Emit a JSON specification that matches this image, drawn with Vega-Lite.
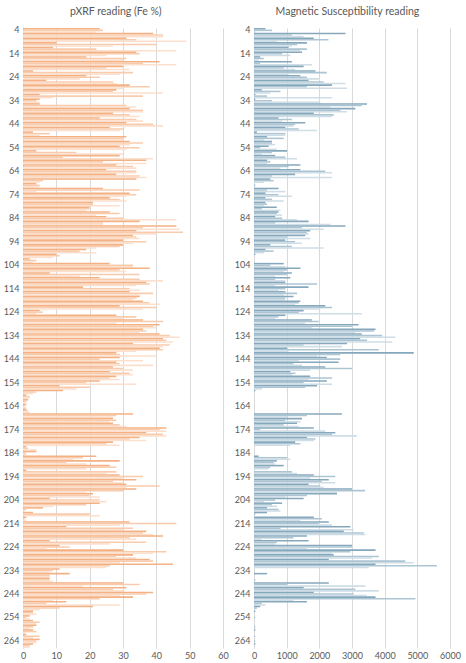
{
  "$schema": "https://vega.github.io/schema/vega-lite/v6.json",
  "padding": {"left": 3, "top": 7, "right": 5, "bottom": 2},
  "spacing": 5,
  "config": {
    "font": "Lato",
    "view": {"stroke": null},
    "axis": {"labelColor": "#595959", "labelFontSize": 9, "gridColor": "#d9d9d9", "domainColor": "#d9d9d9", "ticks": false, "labelFlush": false},
    "title": {"fontSize": 10.5, "fontWeight": "normal", "color": "#595959", "frame": "bounds", "offset": 8}
  },
  "data": {"values": [
    {"depth":4,"run":1,"fe":23,"ms":350},{"depth":4,"run":2,"fe":24,"ms":550},{"depth":4,"run":3,"fe":22,"ms":40},
    {"depth":6,"run":1,"fe":39,"ms":2800},{"depth":6,"run":2,"fe":42,"ms":1160},{"depth":6,"run":3,"fe":42,"ms":1520},
    {"depth":8,"run":1,"fe":31,"ms":1830},{"depth":8,"run":2,"fe":34,"ms":2280},{"depth":8,"run":3,"fe":49,"ms":700},
    {"depth":10,"run":1,"fe":10,"ms":1620},{"depth":10,"run":2,"fe":40,"ms":1320},{"depth":10,"run":3,"fe":27,"ms":1160},
    {"depth":12,"run":1,"fe":9,"ms":1060},{"depth":12,"run":2,"fe":22,"ms":1620},{"depth":12,"run":3,"fe":46,"ms":1420},
    {"depth":14,"run":1,"fe":34,"ms":1470},{"depth":14,"run":2,"fe":35,"ms":860},{"depth":14,"run":3,"fe":25,"ms":1110},
    {"depth":16,"run":1,"fe":19,"ms":190},{"depth":16,"run":2,"fe":31,"ms":300},{"depth":16,"run":3,"fe":30,"ms":140},
    {"depth":18,"run":1,"fe":41,"ms":1160},{"depth":18,"run":2,"fe":36,"ms":190},{"depth":18,"run":3,"fe":46,"ms":1770},
    {"depth":20,"run":1,"fe":30,"ms":1520},{"depth":20,"run":2,"fe":25,"ms":910},{"depth":20,"run":3,"fe":32,"ms":1260},
    {"depth":22,"run":1,"fe":3,"ms":1880},{"depth":22,"run":2,"fe":33,"ms":2230},{"depth":22,"run":3,"fe":29,"ms":1060},
    {"depth":24,"run":1,"fe":19,"ms":1420},{"depth":24,"run":2,"fe":23,"ms":1620},{"depth":24,"run":3,"fe":17,"ms":1980},
    {"depth":26,"run":1,"fe":7,"ms":1670},{"depth":26,"run":2,"fe":27,"ms":2130},{"depth":26,"run":3,"fe":28,"ms":2800},
    {"depth":28,"run":1,"fe":32,"ms":2390},{"depth":28,"run":2,"fe":38,"ms":1620},{"depth":28,"run":3,"fe":30,"ms":2850},
    {"depth":30,"run":1,"fe":28,"ms":240},{"depth":30,"run":2,"fe":27,"ms":810},{"depth":30,"run":3,"fe":42,"ms":500},
    {"depth":32,"run":1,"fe":5,"ms":40},{"depth":32,"run":2,"fe":36,"ms":400},{"depth":32,"run":3,"fe":9,"ms":2390},
    {"depth":34,"run":1,"fe":5,"ms":40},{"depth":34,"run":2,"fe":4,"ms":550},{"depth":34,"run":3,"fe":5,"ms":2030},
    {"depth":36,"run":1,"fe":5,"ms":3460},{"depth":36,"run":2,"fe":31,"ms":3300},{"depth":36,"run":3,"fe":34,"ms":2340},
    {"depth":38,"run":1,"fe":32,"ms":3100},{"depth":38,"run":2,"fe":36,"ms":2640},{"depth":38,"run":3,"fe":36,"ms":2850},
    {"depth":40,"run":1,"fe":27,"ms":1830},{"depth":40,"run":2,"fe":32,"ms":2440},{"depth":40,"run":3,"fe":35,"ms":2390},
    {"depth":42,"run":1,"fe":23,"ms":750},{"depth":42,"run":2,"fe":34,"ms":1160},{"depth":42,"run":3,"fe":36,"ms":860},
    {"depth":44,"run":1,"fe":31,"ms":1570},{"depth":44,"run":2,"fe":39,"ms":1260},{"depth":44,"run":3,"fe":42,"ms":1210},
    {"depth":46,"run":1,"fe":26,"ms":960},{"depth":46,"run":2,"fe":30,"ms":1370},{"depth":46,"run":3,"fe":29,"ms":1930},
    {"depth":48,"run":1,"fe":3,"ms":90},{"depth":48,"run":2,"fe":8,"ms":960},{"depth":48,"run":3,"fe":5,"ms":960},
    {"depth":50,"run":1,"fe":31,"ms":400},{"depth":50,"run":2,"fe":30,"ms":910},{"depth":50,"run":3,"fe":30,"ms":300},
    {"depth":52,"run":1,"fe":32,"ms":550},{"depth":52,"run":2,"fe":36,"ms":550},{"depth":52,"run":3,"fe":32,"ms":650},
    {"depth":54,"run":1,"fe":29,"ms":450},{"depth":54,"run":2,"fe":35,"ms":190},{"depth":54,"run":3,"fe":31,"ms":700},
    {"depth":56,"run":1,"fe":4,"ms":1010},{"depth":56,"run":2,"fe":16,"ms":550},{"depth":56,"run":3,"fe":30,"ms":240},
    {"depth":58,"run":1,"fe":29,"ms":650},{"depth":58,"run":2,"fe":12,"ms":960},{"depth":58,"run":3,"fe":39,"ms":1320},
    {"depth":60,"run":1,"fe":37,"ms":400},{"depth":60,"run":2,"fe":24,"ms":500},{"depth":60,"run":3,"fe":37,"ms":400},
    {"depth":62,"run":1,"fe":28,"ms":1420},{"depth":62,"run":2,"fe":33,"ms":1060},{"depth":62,"run":3,"fe":34,"ms":810},
    {"depth":64,"run":1,"fe":25,"ms":1420},{"depth":64,"run":2,"fe":34,"ms":2180},{"depth":64,"run":3,"fe":34,"ms":2390},
    {"depth":66,"run":1,"fe":28,"ms":1260},{"depth":66,"run":2,"fe":35,"ms":550},{"depth":66,"run":3,"fe":37,"ms":2390},
    {"depth":68,"run":1,"fe":34,"ms":500},{"depth":68,"run":2,"fe":6,"ms":600},{"depth":68,"run":3,"fe":5,"ms":300},
    {"depth":70,"run":1,"fe":4,"ms":0},{"depth":70,"run":2,"fe":5,"ms":40},{"depth":70,"run":3,"fe":5,"ms":0},
    {"depth":72,"run":1,"fe":24,"ms":750},{"depth":72,"run":2,"fe":35,"ms":400},{"depth":72,"run":3,"fe":4,"ms":960},
    {"depth":74,"run":1,"fe":32,"ms":350},{"depth":74,"run":2,"fe":34,"ms":750},{"depth":74,"run":3,"fe":31,"ms":1160},
    {"depth":76,"run":1,"fe":26,"ms":350},{"depth":76,"run":2,"fe":29,"ms":550},{"depth":76,"run":3,"fe":31,"ms":910},
    {"depth":78,"run":1,"fe":21,"ms":350},{"depth":78,"run":2,"fe":21,"ms":400},{"depth":78,"run":3,"fe":29,"ms":300},
    {"depth":80,"run":1,"fe":20,"ms":700},{"depth":80,"run":2,"fe":20,"ms":240},{"depth":80,"run":3,"fe":19,"ms":810},
    {"depth":82,"run":1,"fe":26,"ms":750},{"depth":82,"run":2,"fe":29,"ms":700},{"depth":82,"run":3,"fe":22,"ms":860},
    {"depth":84,"run":1,"fe":25,"ms":650},{"depth":84,"run":2,"fe":30,"ms":860},{"depth":84,"run":3,"fe":46,"ms":1320},
    {"depth":86,"run":1,"fe":35,"ms":1670},{"depth":86,"run":2,"fe":24,"ms":650},{"depth":86,"run":3,"fe":24,"ms":2340},
    {"depth":88,"run":1,"fe":46,"ms":2800},{"depth":88,"run":2,"fe":36,"ms":1470},{"depth":88,"run":3,"fe":47,"ms":2130},
    {"depth":90,"run":1,"fe":34,"ms":1720},{"depth":90,"run":2,"fe":48,"ms":1620},{"depth":90,"run":3,"fe":40,"ms":1670},
    {"depth":92,"run":1,"fe":33,"ms":1570},{"depth":92,"run":2,"fe":34,"ms":1010},{"depth":92,"run":3,"fe":35,"ms":1720},
    {"depth":94,"run":1,"fe":30,"ms":960},{"depth":94,"run":2,"fe":37,"ms":1260},{"depth":94,"run":3,"fe":33,"ms":1470},
    {"depth":96,"run":1,"fe":30,"ms":500},{"depth":96,"run":2,"fe":29,"ms":1160},{"depth":96,"run":3,"fe":22,"ms":2130},
    {"depth":98,"run":1,"fe":19,"ms":350},{"depth":98,"run":2,"fe":17,"ms":600},{"depth":98,"run":3,"fe":22,"ms":300},
    {"depth":100,"run":1,"fe":10,"ms":40},{"depth":100,"run":2,"fe":11,"ms":0},{"depth":100,"run":3,"fe":9,"ms":0},
    {"depth":102,"run":1,"fe":2,"ms":0},{"depth":102,"run":2,"fe":4,"ms":0},{"depth":102,"run":3,"fe":3,"ms":0},
    {"depth":104,"run":1,"fe":26,"ms":910},{"depth":104,"run":2,"fe":33,"ms":500},{"depth":104,"run":3,"fe":33,"ms":960},
    {"depth":106,"run":1,"fe":38,"ms":1420},{"depth":106,"run":2,"fe":29,"ms":1010},{"depth":106,"run":3,"fe":31,"ms":910},
    {"depth":108,"run":1,"fe":8,"ms":1160},{"depth":108,"run":2,"fe":35,"ms":1010},{"depth":108,"run":3,"fe":17,"ms":650},
    {"depth":110,"run":1,"fe":23,"ms":1110},{"depth":110,"run":2,"fe":35,"ms":650},{"depth":110,"run":3,"fe":42,"ms":960},
    {"depth":112,"run":1,"fe":37,"ms":960},{"depth":112,"run":2,"fe":38,"ms":1930},{"depth":112,"run":3,"fe":34,"ms":650},
    {"depth":114,"run":1,"fe":18,"ms":1670},{"depth":114,"run":2,"fe":32,"ms":960},{"depth":114,"run":3,"fe":35,"ms":750},
    {"depth":116,"run":1,"fe":32,"ms":960},{"depth":116,"run":2,"fe":39,"ms":1320},{"depth":116,"run":3,"fe":35,"ms":910},
    {"depth":118,"run":1,"fe":35,"ms":1210},{"depth":118,"run":2,"fe":34,"ms":960},{"depth":118,"run":3,"fe":33,"ms":960},
    {"depth":120,"run":1,"fe":36,"ms":1420},{"depth":120,"run":2,"fe":38,"ms":1370},{"depth":120,"run":3,"fe":41,"ms":1260},
    {"depth":122,"run":1,"fe":29,"ms":2180},{"depth":122,"run":2,"fe":40,"ms":2390},{"depth":122,"run":3,"fe":36,"ms":2030},
    {"depth":124,"run":1,"fe":5,"ms":1520},{"depth":124,"run":2,"fe":6,"ms":1370},{"depth":124,"run":3,"fe":4,"ms":3300},
    {"depth":126,"run":1,"fe":28,"ms":960},{"depth":126,"run":2,"fe":34,"ms":750},{"depth":126,"run":3,"fe":30,"ms":650},
    {"depth":128,"run":1,"fe":36,"ms":1770},{"depth":128,"run":2,"fe":42,"ms":1980},{"depth":128,"run":3,"fe":28,"ms":1570},
    {"depth":130,"run":1,"fe":41,"ms":3200},{"depth":130,"run":2,"fe":39,"ms":3000},{"depth":130,"run":3,"fe":40,"ms":1770},
    {"depth":132,"run":1,"fe":36,"ms":3720},{"depth":132,"run":2,"fe":37,"ms":3670},{"depth":132,"run":3,"fe":35,"ms":3100},
    {"depth":134,"run":1,"fe":41,"ms":3300},{"depth":134,"run":2,"fe":44,"ms":3920},{"depth":134,"run":3,"fe":47,"ms":4330},
    {"depth":136,"run":1,"fe":42,"ms":3250},{"depth":136,"run":2,"fe":43,"ms":3460},{"depth":136,"run":3,"fe":45,"ms":4230},
    {"depth":138,"run":1,"fe":33,"ms":2850},{"depth":138,"run":2,"fe":44,"ms":1520},{"depth":138,"run":3,"fe":42,"ms":2690},
    {"depth":140,"run":1,"fe":41,"ms":1010},{"depth":140,"run":2,"fe":42,"ms":3820},{"depth":140,"run":3,"fe":34,"ms":1060},
    {"depth":142,"run":1,"fe":28,"ms":4890},{"depth":142,"run":2,"fe":29,"ms":2640},{"depth":142,"run":3,"fe":40,"ms":1930},
    {"depth":144,"run":1,"fe":29,"ms":2230},{"depth":144,"run":2,"fe":23,"ms":2640},{"depth":144,"run":3,"fe":36,"ms":1370},
    {"depth":146,"run":1,"fe":28,"ms":2590},{"depth":146,"run":2,"fe":29,"ms":1210},{"depth":146,"run":3,"fe":39,"ms":1470},
    {"depth":148,"run":1,"fe":27,"ms":2180},{"depth":148,"run":2,"fe":30,"ms":3000},{"depth":148,"run":3,"fe":33,"ms":1720},
    {"depth":150,"run":1,"fe":26,"ms":1110},{"depth":150,"run":2,"fe":32,"ms":1270},{"depth":150,"run":3,"fe":33,"ms":1170},
    {"depth":152,"run":1,"fe":28,"ms":1720},{"depth":152,"run":2,"fe":26,"ms":2390},{"depth":152,"run":3,"fe":29,"ms":1670},
    {"depth":154,"run":1,"fe":23,"ms":2230},{"depth":154,"run":2,"fe":19,"ms":1520},{"depth":154,"run":3,"fe":34,"ms":2390},
    {"depth":156,"run":1,"fe":11,"ms":1930},{"depth":156,"run":2,"fe":20,"ms":1570},{"depth":156,"run":3,"fe":16,"ms":250},
    {"depth":158,"run":1,"fe":12,"ms":40},{"depth":158,"run":2,"fe":4,"ms":0},{"depth":158,"run":3,"fe":3,"ms":0},
    {"depth":160,"run":1,"fe":1,"ms":0},{"depth":160,"run":2,"fe":2,"ms":0},{"depth":160,"run":3,"fe":2,"ms":0},
    {"depth":162,"run":1,"fe":1.5,"ms":0},{"depth":162,"run":2,"fe":1,"ms":0},{"depth":162,"run":3,"fe":1,"ms":0},
    {"depth":164,"run":1,"fe":1,"ms":0},{"depth":164,"run":2,"fe":0.5,"ms":0},{"depth":164,"run":3,"fe":1,"ms":0},
    {"depth":166,"run":1,"fe":1,"ms":0},{"depth":166,"run":2,"fe":1.5,"ms":0},{"depth":166,"run":3,"fe":2,"ms":0},
    {"depth":168,"run":1,"fe":33,"ms":2690},{"depth":168,"run":2,"fe":28,"ms":1620},{"depth":168,"run":3,"fe":27,"ms":1010},
    {"depth":170,"run":1,"fe":27,"ms":1470},{"depth":170,"run":2,"fe":28,"ms":960},{"depth":170,"run":3,"fe":26,"ms":1420},
    {"depth":172,"run":1,"fe":27,"ms":1320},{"depth":172,"run":2,"fe":29,"ms":910},{"depth":172,"run":3,"fe":31,"ms":1370},
    {"depth":174,"run":1,"fe":43,"ms":1830},{"depth":174,"run":2,"fe":41,"ms":190},{"depth":174,"run":3,"fe":43,"ms":2180},
    {"depth":176,"run":1,"fe":37,"ms":2490},{"depth":176,"run":2,"fe":42,"ms":2390},{"depth":176,"run":3,"fe":43,"ms":3150},
    {"depth":178,"run":1,"fe":35,"ms":1620},{"depth":178,"run":2,"fe":32,"ms":1880},{"depth":178,"run":3,"fe":37,"ms":1830},
    {"depth":180,"run":1,"fe":27,"ms":1260},{"depth":180,"run":2,"fe":25,"ms":1420},{"depth":180,"run":3,"fe":29,"ms":1110},
    {"depth":182,"run":1,"fe":1,"ms":0},{"depth":182,"run":2,"fe":1.5,"ms":0},{"depth":182,"run":3,"fe":4,"ms":0},
    {"depth":184,"run":1,"fe":4,"ms":0},{"depth":184,"run":2,"fe":1,"ms":0},{"depth":184,"run":3,"fe":1,"ms":0},
    {"depth":186,"run":1,"fe":22,"ms":140},{"depth":186,"run":2,"fe":18,"ms":1010},{"depth":186,"run":3,"fe":15,"ms":1110},
    {"depth":188,"run":1,"fe":29,"ms":700},{"depth":188,"run":2,"fe":13,"ms":600},{"depth":188,"run":3,"fe":19,"ms":650},
    {"depth":190,"run":1,"fe":26,"ms":910},{"depth":190,"run":2,"fe":28,"ms":500},{"depth":190,"run":3,"fe":19,"ms":450},
    {"depth":192,"run":1,"fe":1,"ms":0},{"depth":192,"run":2,"fe":28,"ms":1160},{"depth":192,"run":3,"fe":25,"ms":1320},
    {"depth":194,"run":1,"fe":29,"ms":1830},{"depth":194,"run":2,"fe":36,"ms":2490},{"depth":194,"run":3,"fe":30,"ms":1720},
    {"depth":196,"run":1,"fe":34,"ms":2290},{"depth":196,"run":2,"fe":27,"ms":2080},{"depth":196,"run":3,"fe":30,"ms":2490},
    {"depth":198,"run":1,"fe":31,"ms":1670},{"depth":198,"run":2,"fe":41,"ms":2030},{"depth":198,"run":3,"fe":31,"ms":2130},
    {"depth":200,"run":1,"fe":34,"ms":3000},{"depth":200,"run":2,"fe":30,"ms":3400},{"depth":200,"run":3,"fe":19,"ms":2540},
    {"depth":202,"run":1,"fe":21,"ms":2540},{"depth":202,"run":2,"fe":20,"ms":1620},{"depth":202,"run":3,"fe":23,"ms":960},
    {"depth":204,"run":1,"fe":8,"ms":1520},{"depth":204,"run":2,"fe":23,"ms":650},{"depth":204,"run":3,"fe":25,"ms":300},
    {"depth":206,"run":1,"fe":23,"ms":860},{"depth":206,"run":2,"fe":19,"ms":550},{"depth":206,"run":3,"fe":9,"ms":700},
    {"depth":208,"run":1,"fe":6,"ms":400},{"depth":208,"run":2,"fe":1,"ms":750},{"depth":208,"run":3,"fe":0.5,"ms":810},
    {"depth":210,"run":1,"fe":3,"ms":400},{"depth":210,"run":2,"fe":20,"ms":40},{"depth":210,"run":3,"fe":23,"ms":0},
    {"depth":212,"run":1,"fe":1,"ms":1830},{"depth":212,"run":2,"fe":0.5,"ms":2080},{"depth":212,"run":3,"fe":1,"ms":1420},
    {"depth":214,"run":1,"fe":32,"ms":2290},{"depth":214,"run":2,"fe":46,"ms":1980},{"depth":214,"run":3,"fe":29,"ms":2390},
    {"depth":216,"run":1,"fe":13,"ms":2950},{"depth":216,"run":2,"fe":33,"ms":810},{"depth":216,"run":3,"fe":30,"ms":3050},
    {"depth":218,"run":1,"fe":37,"ms":2750},{"depth":218,"run":2,"fe":36,"ms":3360},{"depth":218,"run":3,"fe":39,"ms":3410},
    {"depth":220,"run":1,"fe":42,"ms":1620},{"depth":220,"run":2,"fe":32,"ms":1210},{"depth":220,"run":3,"fe":34,"ms":240},
    {"depth":222,"run":1,"fe":8,"ms":1670},{"depth":222,"run":2,"fe":37,"ms":700},{"depth":222,"run":3,"fe":26,"ms":650},
    {"depth":224,"run":1,"fe":11,"ms":3000},{"depth":224,"run":2,"fe":14,"ms":3000},{"depth":224,"run":3,"fe":7,"ms":1620},
    {"depth":226,"run":1,"fe":30,"ms":3720},{"depth":226,"run":2,"fe":43,"ms":2950},{"depth":226,"run":3,"fe":39,"ms":2390},
    {"depth":228,"run":1,"fe":33,"ms":2440},{"depth":228,"run":2,"fe":28,"ms":3820},{"depth":228,"run":3,"fe":34,"ms":3610},
    {"depth":230,"run":1,"fe":38,"ms":2290},{"depth":230,"run":2,"fe":39,"ms":4630},{"depth":230,"run":3,"fe":29,"ms":4890},
    {"depth":232,"run":1,"fe":45,"ms":3720},{"depth":232,"run":2,"fe":26,"ms":5600},{"depth":232,"run":3,"fe":25,"ms":3510},
    {"depth":234,"run":1,"fe":11,"ms":0},{"depth":234,"run":2,"fe":9,"ms":0},{"depth":234,"run":3,"fe":8,"ms":0},
    {"depth":236,"run":1,"fe":14,"ms":400},{"depth":236,"run":2,"fe":8,"ms":0},{"depth":236,"run":3,"fe":8,"ms":0},
    {"depth":238,"run":1,"fe":8,"ms":0},{"depth":238,"run":2,"fe":8,"ms":40},{"depth":238,"run":3,"fe":9,"ms":0},
    {"depth":240,"run":1,"fe":30,"ms":2290},{"depth":240,"run":2,"fe":35,"ms":1010},{"depth":240,"run":3,"fe":18,"ms":3410},
    {"depth":242,"run":1,"fe":31,"ms":1520},{"depth":242,"run":2,"fe":27,"ms":3100},{"depth":242,"run":3,"fe":30,"ms":3820},
    {"depth":244,"run":1,"fe":39,"ms":1830},{"depth":244,"run":2,"fe":37,"ms":3050},{"depth":244,"run":3,"fe":29,"ms":3460},
    {"depth":246,"run":1,"fe":33,"ms":3720},{"depth":246,"run":2,"fe":23,"ms":4940},{"depth":246,"run":3,"fe":9,"ms":1210},
    {"depth":248,"run":1,"fe":13,"ms":1620},{"depth":248,"run":2,"fe":7,"ms":240},{"depth":248,"run":3,"fe":29,"ms":350},
    {"depth":250,"run":1,"fe":21,"ms":190},{"depth":250,"run":2,"fe":11,"ms":90},{"depth":250,"run":3,"fe":5,"ms":40},
    {"depth":252,"run":1,"fe":3,"ms":40},{"depth":252,"run":2,"fe":3,"ms":0},{"depth":252,"run":3,"fe":4,"ms":0},
    {"depth":254,"run":1,"fe":2,"ms":0},{"depth":254,"run":2,"fe":1,"ms":40},{"depth":254,"run":3,"fe":2,"ms":0},
    {"depth":256,"run":1,"fe":3,"ms":0},{"depth":256,"run":2,"fe":5,"ms":0},{"depth":256,"run":3,"fe":4,"ms":0},
    {"depth":258,"run":1,"fe":4,"ms":0},{"depth":258,"run":2,"fe":3,"ms":40},{"depth":258,"run":3,"fe":2,"ms":40},
    {"depth":260,"run":1,"fe":3,"ms":40},{"depth":260,"run":2,"fe":4,"ms":0},{"depth":260,"run":3,"fe":1,"ms":0},
    {"depth":262,"run":1,"fe":1,"ms":0},{"depth":262,"run":2,"fe":5,"ms":40},{"depth":262,"run":3,"fe":3,"ms":0},
    {"depth":264,"run":1,"fe":5,"ms":0},{"depth":264,"run":2,"fe":4,"ms":40},{"depth":264,"run":3,"fe":4,"ms":0},
    {"depth":266,"run":1,"fe":3,"ms":40},{"depth":266,"run":2,"fe":2,"ms":0},{"depth":266,"run":3,"fe":2,"ms":0}
  ]},
  "hconcat": [
    {
      "width": 200,
      "height": 620,
      "title": "pXRF reading (Fe %)",
      "mark": {"type": "bar"},
      "encoding": {
        "y": {
          "field": "depth", "type": "ordinal", "title": null,
          "scale": {"paddingInner": 0, "paddingOuter": 0},
          "axis": {"values": [4,14,24,34,44,54,64,74,84,94,104,114,124,134,144,154,164,174,184,194,204,214,224,234,244,254,264], "labelPadding": 4, "grid": false}
        },
        "yOffset": {"field": "run", "type": "ordinal", "scale": {"paddingInner": 0, "paddingOuter": 0}},
        "x": {
          "field": "fe", "type": "quantitative", "title": null,
          "scale": {"domain": [0, 60], "nice": false},
          "axis": {"values": [0,10,20,30,40,50,60], "domain": false, "labelPadding": 3}
        },
        "color": {"field": "run", "type": "nominal", "legend": null, "scale": {"range": ["#f4b183", "#f8cbad", "#fcdfcc"]}}
      }
    },
    {
      "width": 196,
      "height": 620,
      "title": "Magnetic Susceptibility reading",
      "mark": {"type": "bar"},
      "encoding": {
        "y": {
          "field": "depth", "type": "ordinal", "title": null,
          "scale": {"paddingInner": 0, "paddingOuter": 0},
          "axis": {"values": [4,14,24,34,44,54,64,74,84,94,104,114,124,134,144,154,164,174,184,194,204,214,224,234,244,254,264], "labelPadding": 4, "grid": false}
        },
        "yOffset": {"field": "run", "type": "ordinal", "scale": {"paddingInner": 0, "paddingOuter": 0}},
        "x": {
          "field": "ms", "type": "quantitative", "title": null,
          "scale": {"domain": [0, 6000], "nice": false},
          "axis": {"values": [0,1000,2000,3000,4000,5000,6000], "format": "d", "domain": false, "labelPadding": 3}
        },
        "color": {"field": "run", "type": "nominal", "legend": null, "scale": {"range": ["#86a8bd", "#adc5d3", "#cfdde6"]}}
      }
    }
  ],
  "resolve": {"scale": {"color": "independent"}}
}
